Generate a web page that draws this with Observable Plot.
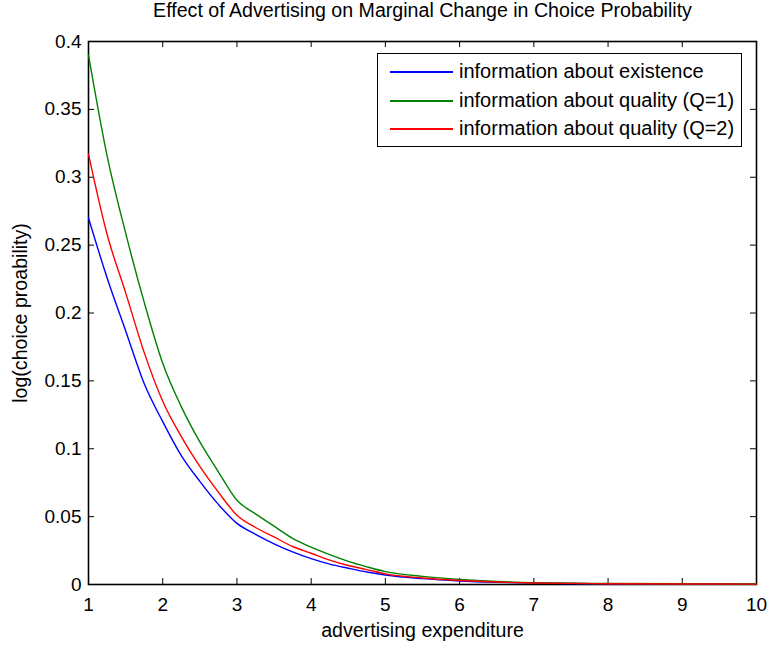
<!DOCTYPE html>
<html>
<head>
<meta charset="utf-8">
<script src="https://cdn.jsdelivr.net/npm/d3@7"></script>
<script src="https://cdn.jsdelivr.net/npm/@observablehq/plot@0.6"></script>
<style>
  html, body { margin: 0; padding: 0; background: #fff; }
  #wrap { position: relative; width: 772px; height: 648px; font-family: "Liberation Sans", Arial, sans-serif; }
  #legend { position: absolute; left: 377px; top: 53px; width: 363px; height: 92px; border: 1.5px solid #000; background: #fff; }
  .row { position: absolute; left: 0; height: 0; }
  .sw { position: absolute; left: 12px; top: -1px; width: 63px; height: 2px; }
  .lab { position: absolute; left: 81px; top: -13px; font-size: 20px; line-height: 24px; white-space: nowrap; color: #000; }
</style>
</head>
<body>
<div id="wrap"></div>
<script>
const titleText = "Effect of Advertising on Marginal Change in Choice Probability";
const xLabel = "advertising expenditure";
const yLabel = "log(choice proability)";
const seriesNames = ["information about existence", "information about quality (Q=1)", "information about quality (Q=2)"];
const seriesColors = ["#0000ff", "#008000", "#ff0000"];
const xTicks = [1, 2, 3, 4, 5, 6, 7, 8, 9, 10];
const yTicks = [0, 0.05, 0.1, 0.15, 0.2, 0.25, 0.3, 0.35, 0.4];

const xs = [1, 1.25, 1.5, 1.75, 2, 2.25, 2.5, 2.75, 3, 3.25, 3.5, 3.75, 4, 4.25, 4.5, 4.75, 5, 5.5, 6, 6.5, 7, 7.5, 8, 9, 10];
const existence = [0.270, 0.226, 0.187, 0.148, 0.120, 0.095, 0.076, 0.059, 0.045, 0.037, 0.030, 0.024, 0.019, 0.015, 0.012, 0.0092, 0.0070, 0.0043, 0.0026, 0.0016, 0.0010, 0.0007, 0.0005, 0.0004, 0.0003];
const qualityQ1 = [0.390, 0.316, 0.259, 0.208, 0.163, 0.131, 0.105, 0.083, 0.062, 0.052, 0.043, 0.034, 0.0275, 0.022, 0.017, 0.013, 0.0095, 0.0060, 0.0037, 0.0022, 0.0013, 0.0009, 0.0007, 0.0005, 0.0004];
const qualityQ2 = [0.317, 0.258, 0.215, 0.171, 0.135, 0.109, 0.087, 0.068, 0.051, 0.042, 0.035, 0.028, 0.023, 0.018, 0.014, 0.011, 0.0078, 0.0048, 0.0030, 0.0018, 0.0011, 0.0008, 0.0006, 0.0004, 0.0003];

const seriesValues = [existence, qualityQ1, qualityQ2];
const data = seriesNames.flatMap((name, i) => xs.map((x, j) => ({series: name, x, y: seriesValues[i][j]})));

const W = 772, H = 648, mL = 88, mR = 16, mT = 41, mB = 64;
const fw = W - mL - mR, fh = H - mT - mB, tk = 6;

const chart = Plot.plot({
  width: W, height: H,
  marginLeft: mL, marginRight: mR, marginTop: mT, marginBottom: mB,
  style: {fontFamily: "'Liberation Sans', Arial, sans-serif", fontSize: "19px", background: "#fff", color: "#000", overflow: "visible"},
  x: {domain: [1, 10]},
  y: {domain: [0, 0.4]},
  color: {domain: seriesNames, range: seriesColors},
  marks: [
    Plot.axisX({ticks: xTicks, tickSize: 0, tickPadding: 13, tickFormat: d => String(d), label: null}),
    Plot.axisY({ticks: yTicks, tickSize: 0, tickPadding: 7, tickFormat: d => String(d), label: null}),
    Plot.tickX(xTicks, {x: d => d, insetTop: fh - tk, stroke: "#000", strokeWidth: 1}),
    Plot.tickX(xTicks, {x: d => d, insetBottom: fh - tk, stroke: "#000", strokeWidth: 1}),
    Plot.tickY(yTicks, {y: d => d, insetRight: fw - tk, stroke: "#000", strokeWidth: 1}),
    Plot.tickY(yTicks, {y: d => d, insetLeft: fw - tk, stroke: "#000", strokeWidth: 1}),
    Plot.frame({stroke: "#000", strokeWidth: 1.6}),
    Plot.line(data, {x: "x", y: "y", z: "series", stroke: "series", strokeWidth: 1.4, curve: "monotone-x"}),
    Plot.text([titleText], {frameAnchor: "top", dy: -31, lineAnchor: "middle", textAnchor: "middle", fill: "#000", fontSize: 19.6}),
    Plot.text([xLabel], {frameAnchor: "bottom", dy: 46, lineAnchor: "middle", textAnchor: "middle", fill: "#000", fontSize: 19.6}),
    Plot.text([yLabel], {frameAnchor: "left", dx: -68, rotate: -90, lineAnchor: "middle", textAnchor: "middle", fill: "#000", fontSize: 19.6})
  ]
});

const wrap = document.getElementById("wrap");
wrap.appendChild(chart);

const legend = document.createElement("div");
legend.id = "legend";
const rowTops = [18, 47, 75];
seriesNames.forEach((name, i) => {
  const row = document.createElement("div");
  row.className = "row";
  row.style.top = rowTops[i] + "px";
  const sw = document.createElement("div");
  sw.className = "sw";
  sw.style.background = seriesColors[i];
  const lab = document.createElement("div");
  lab.className = "lab";
  lab.textContent = name;
  row.appendChild(sw);
  row.appendChild(lab);
  legend.appendChild(row);
});
wrap.appendChild(legend);
</script>
</body>
</html>
